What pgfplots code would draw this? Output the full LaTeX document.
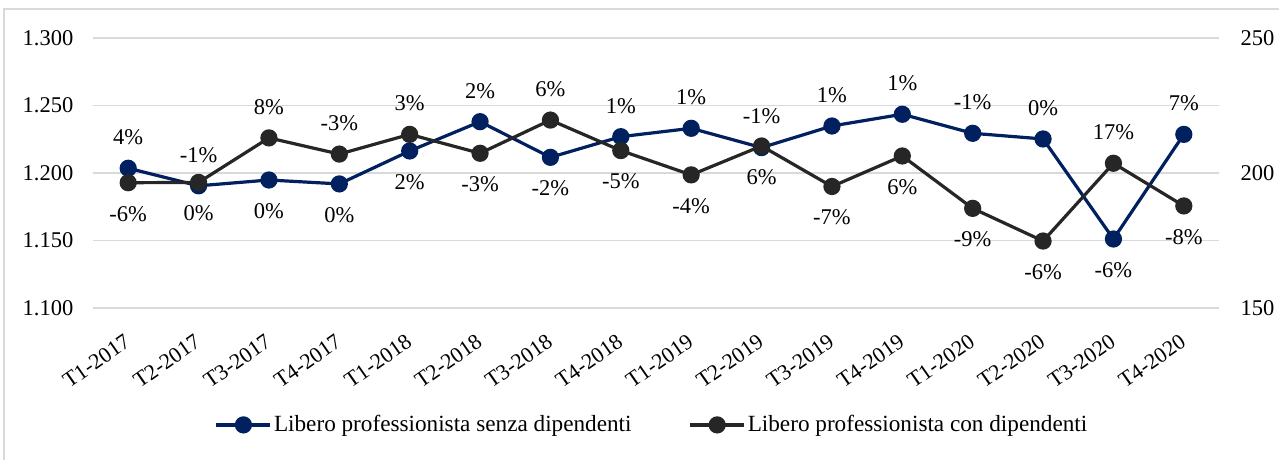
\documentclass[border=0pt]{standalone}
\usepackage{pgfplots}
\pgfplotsset{compat=1.18}
\usepackage{pgfplotstable}
\usepackage{fontspec}
\setmainfont{Liberation Serif}
\definecolor{navy}{HTML}{002060}
\definecolor{dark}{HTML}{262626}
\definecolor{gridc}{HTML}{D9D9D9}

\pgfplotstableread{
x y lbl pos
0 1203.5 4 1
1 1190.5 -1 1
2 1194.8 0 -1
3 1191.9 0 -1
4 1216.3 2 -1
5 1238.0 2 1
6 1211.6 -2 -1
7 1226.9 1 1
8 1233.1 1 1
9 1218.8 -1 1
10 1234.8 1 1
11 1243.5 1 1
12 1229.4 -1 1
13 1225.2 0 1
14 1151.1 -6 -1
15 1228.6 7 1
}\senza

\pgfplotstableread{
x y lbl pos
0 196.4 -6 -1
1 196.5 0 -1
2 213.0 8 1
3 207.0 -3 1
4 214.3 3 1
5 207.3 -3 -1
6 219.6 6 1
7 208.3 -5 -1
8 199.3 -4 -1
9 210.0 6 -1
10 195.0 -7 -1
11 206.3 6 -1
12 186.9 -9 -1
13 174.8 -6 -1
14 203.6 17 1
15 187.8 -8 -1
}\con

\newcommand\fs{\fontsize{22.5bp}{26bp}\selectfont}

\pgfplotsset{
  common/.style={
    scale only axis,
    width=1126bp, height=270bp,
    at={(93bp,152bp)}, anchor=south west,
    xmin=-0.5, xmax=15.5,
    axis line style={draw=none},
    major tick length=0pt,
    tick style={draw=none},
    clip=false,
    tick label style={font=\fs},
    /pgf/number format/assume math mode=true,
    nodes near coords={\pgfplotspointmeta\%},
    point meta=explicit symbolic,
    visualization depends on={\thisrow{pos} \as \lpos},
    nodes near coords style={font=\fs, anchor=center, inner sep=0pt, yshift={\lpos*31bp}, text=black},
    legend image code/.code={\draw[mark repeat=2,mark phase=2,#1] plot coordinates {(0bp,0bp) (27bp,0bp) (54bp,0bp)};},
  },
}

\begin{document}
\fs
\begin{tikzpicture}[x=1bp,y=1bp]
\useasboundingbox (0,0) rectangle (1279,460);
\fill[white] (0,0) rectangle (1279,460);
\draw[gridc, line width=1.5bp] (4,-10) -- (4,451) -- (1290,451);

\begin{axis}[common,
  ymin=1100, ymax=1300,
  ytick={1100,1150,...,1300},
  ymajorgrids,
  grid style={gridc, line width=1.5bp},
  yticklabel style={/pgf/number format/fixed, /pgf/number format/precision=0, /pgf/number format/1000 sep={.}, anchor=east, xshift=-12bp},
  xtick={0,...,15},
  xticklabels={T1-2017,T2-2017,T3-2017,T4-2017,T1-2018,T2-2018,T3-2018,T4-2018,T1-2019,T2-2019,T3-2019,T4-2019,T1-2020,T2-2020,T3-2020,T4-2020},
  xticklabel style={font=\fontsize{22bp}{26bp}\selectfont, xshift=-5bp, yshift=-25bp, rotate=35, anchor=north east, inner sep=0pt},
]
\addplot[navy, line width=3.2bp, mark=*, mark size=7bp, mark options={solid, fill=navy, draw=navy}]
  table[x=x, y=y, meta=lbl] {\senza};
\end{axis}

\begin{axis}[common,
  ymin=150, ymax=250,
  ytick={150,200,250},
  axis x line=none,
  axis y line*=right,
  yticklabel style={anchor=west, xshift=14bp},
  legend columns=2,
  legend style={at={(0.4965,-0.433)}, anchor=center, draw=none, fill=none,
    inner sep=0pt, font=\fontsize{23.2bp}{26bp}\selectfont,
    /tikz/every even column/.append style={column sep=55bp},
    cells={anchor=west}},
]
\addlegendimage{navy, line width=3.2bp, mark=*, mark size=7bp, mark options={solid, fill=navy, draw=navy}}
\addlegendentry{Libero professionista senza dipendenti}
\addplot[dark, line width=3.2bp, mark=*, mark size=7bp, mark options={solid, fill=dark, draw=dark}]
  table[x=x, y=y, meta=lbl] {\con};
\addlegendentry{Libero professionista con dipendenti}
\end{axis}
\end{tikzpicture}
\end{document}
